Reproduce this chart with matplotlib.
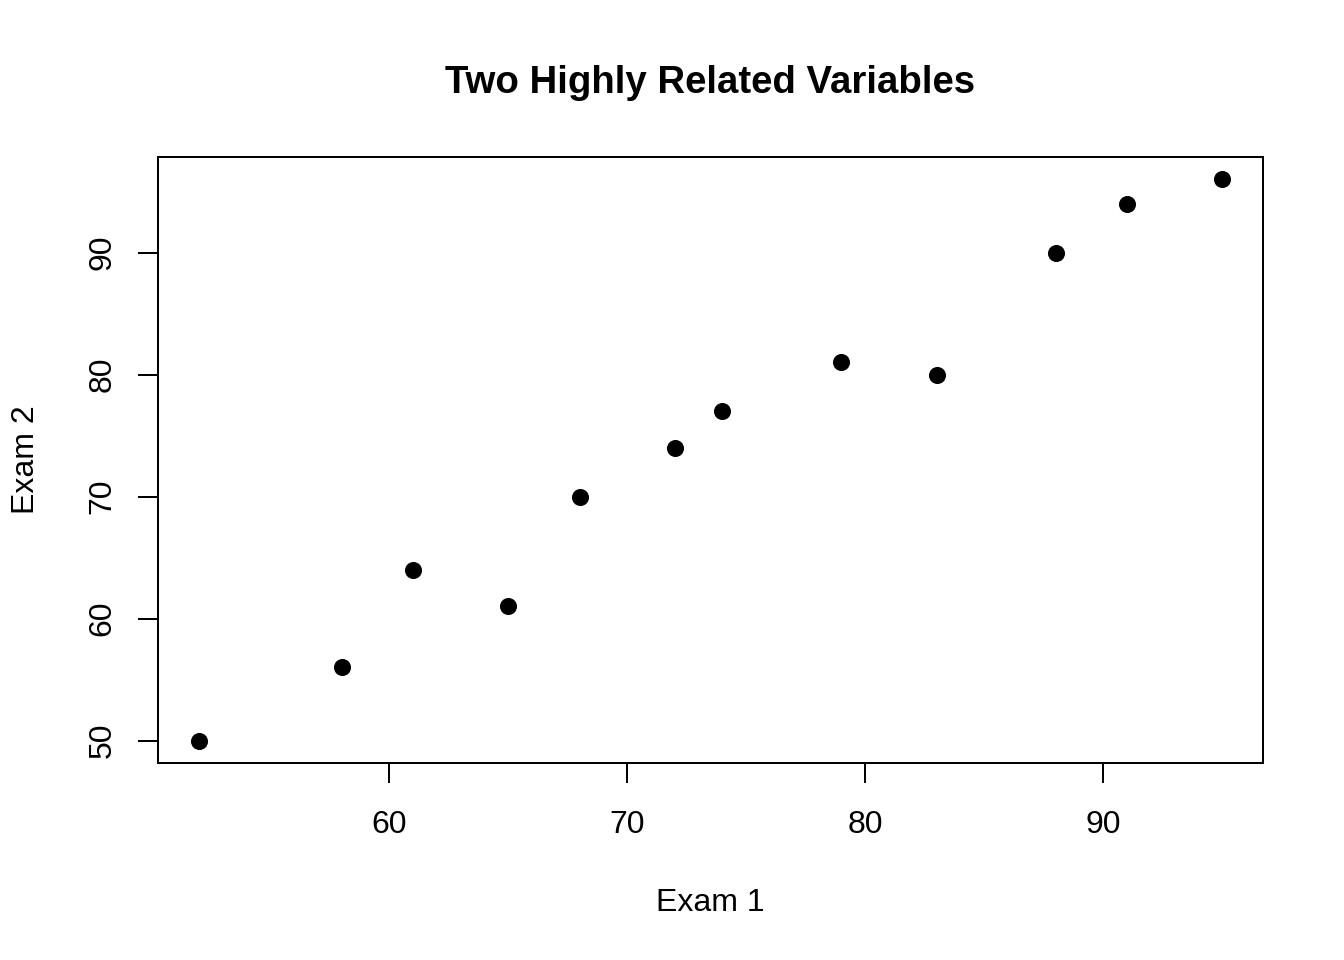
import matplotlib
matplotlib.use("Agg")
import matplotlib.pyplot as plt

# exam scores
exam1 = [52, 58, 61, 65, 68, 72, 74, 79, 83, 88, 91, 95]
exam2 = [50, 56, 64, 61, 70, 74, 77, 81, 80, 90, 94, 96]
xticks = [60, 70, 80, 90]
yticks = [50, 60, 70, 80, 90]

plt.rcParams["font.family"] = ["Liberation Sans", "DejaVu Sans"]
plt.rcParams["font.size"] = 12

fig = plt.figure(figsize=(7, 5), dpi=192)
ax = fig.add_axes([158 / 1344, 1 - 763 / 960, (1263 - 158) / 1344, (763 - 157) / 960])

ax.plot(exam1, exam2, "o", color="black", markersize=6.4, markeredgewidth=0)

# R-style 4% padding around the data range
xr = max(exam1) - min(exam1)
yr = max(exam2) - min(exam2)
ax.set_xlim(min(exam1) - 0.04 * xr, max(exam1) + 0.04 * xr)
ax.set_ylim(min(exam2) - 0.04 * yr, max(exam2) + 0.04 * yr)
ax.set_xticks(xticks)
ax.set_yticks(yticks)
ax.set_yticklabels([str(t) for t in yticks], rotation=90, va="center")

for s in ax.spines.values():
    s.set_linewidth(0.75)
ax.tick_params(length=7.5, width=0.75, labelsize=12)
ax.tick_params(axis="x", pad=10.3)
ax.tick_params(axis="y", pad=7.7)

ax.set_xlabel("Exam 1", fontsize=12, labelpad=18)
ax.set_ylabel("Exam 2", fontsize=12, labelpad=17.5)
ax.set_title("Two Highly Related Variables", fontsize=14.4, fontweight="bold", pad=24)

fig.savefig("out.png", dpi=192)
